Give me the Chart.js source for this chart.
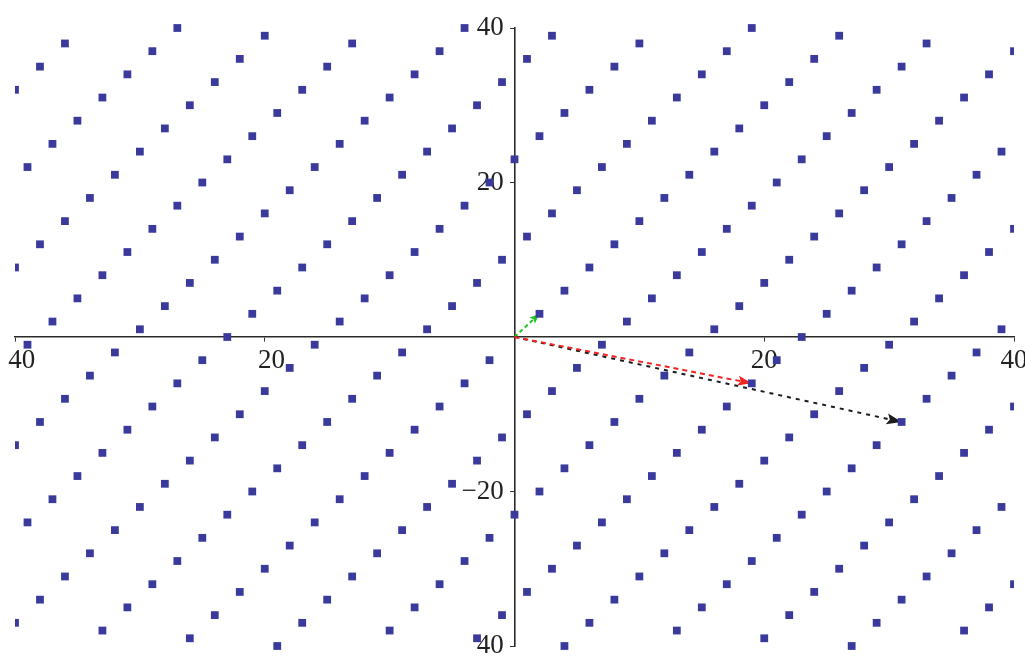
<!DOCTYPE html>
<html>
<head>
<meta charset="utf-8">
<script src="https://cdn.jsdelivr.net/npm/chart.js@4.4.1/dist/chart.umd.min.js"></script>
<style>
  html, body { margin: 0; padding: 0; background: #fff; }
  #latticeChart { display: block; }
</style>
</head>
<body>
<canvas id="latticeChart" width="1025" height="656"></canvas>
<script>
// lattice points, one row per y value (top to bottom), with the x of each point on the row
const rowY = [40, 39, 38, 37, 36, 35, 34, 33, 32, 31, 30, 29, 28, 27, 26, 25, 24, 23, 22, 21,
  20, 19, 18, 17, 16, 15, 14, 13, 12, 11, 10, 9, 8, 7, 6, 5, 4, 3, 2, 1,
  0, -1, -2, -3, -4, -5, -6, -7, -8, -9, -10, -11, -12, -13, -14, -15, -16, -17, -18, -19,
  -20, -21, -22, -23, -24, -25, -26, -27, -28, -29, -30, -31, -32, -33, -34, -35, -36, -37, -38, -39, -40];
const rowX = [
  [-27, -4, 19], [-20, 3, 26], [-36, -13, 10, 33], [-29, -6, 17, 40], [-22, 1, 24],
  [-38, -15, 8, 31], [-31, -8, 15, 38], [-24, -1, 22], [-40, -17, 6, 29], [-33, -10, 13, 36],
  [-26, -3, 20], [-19, 4, 27], [-35, -12, 11, 34], [-28, -5, 18], [-21, 2, 25],
  [-37, -14, 9, 32], [-30, -7, 16, 39], [-23, 0, 23], [-39, -16, 7, 30], [-32, -9, 14, 37],
  [-25, -2, 21], [-18, 5, 28], [-34, -11, 12, 35], [-27, -4, 19], [-20, 3, 26],
  [-36, -13, 10, 33], [-29, -6, 17, 40], [-22, 1, 24], [-38, -15, 8, 31], [-31, -8, 15, 38],
  [-24, -1, 22], [-40, -17, 6, 29], [-33, -10, 13, 36], [-26, -3, 20], [-19, 4, 27],
  [-35, -12, 11, 34], [-28, -5, 18], [-21, 2, 25], [-37, -14, 9, 32], [-30, -7, 16, 39],
  [-23, 23],
  [-39, -16, 7, 30], [-32, -9, 14, 37], [-25, -2, 21], [-18, 5, 28], [-34, -11, 12, 35],
  [-27, -4, 19], [-20, 3, 26], [-36, -13, 10, 33], [-29, -6, 17, 40], [-22, 1, 24],
  [-38, -15, 8, 31], [-31, -8, 15, 38], [-24, -1, 22], [-40, -17, 6, 29], [-33, -10, 13, 36],
  [-26, -3, 20], [-19, 4, 27], [-35, -12, 11, 34], [-28, -5, 18], [-21, 2, 25],
  [-37, -14, 9, 32], [-30, -7, 16, 39], [-23, 0, 23], [-39, -16, 7, 30], [-32, -9, 14, 37],
  [-25, -2, 21], [-18, 5, 28], [-34, -11, 12, 35], [-27, -4, 19], [-20, 3, 26],
  [-36, -13, 10, 33], [-29, -6, 17, 40], [-22, 1, 24], [-38, -15, 8, 31], [-31, -8, 15, 38],
  [-24, -1, 22], [-40, -17, 6, 29], [-33, -10, 13, 36], [-26, -3, 20], [-19, 4, 27]
];

// vectors from the origin, drawn as dashed arrows
const vectorX = [19, 31, 2];
const vectorY = [-6, -11, 3];
const vectorColors = ['#f22424', '#1c1c1c', '#1fc41f'];
const vectorDash = [[5, 4], [4, 5], [4, 3]];
const headLength = [14, 15, 10];
const headHalf = [5, 5.5, 4];

// tick positions and the text printed next to them
const xTickValues = [-40, -20, 20, 40];
const xTickText = ['\u200240', '\u200220', '20', '40'];
const yTickValues = [40, 20, -20, -40];
const yTickText = ['40\u2009\u2009', '20\u2009\u2009', '\u221220\u2009\u2009', '40\u2009\u2009'];

const latticePoints = [];
rowY.forEach((y, i) => rowX[i].forEach(x => latticePoints.push({ x: x, y: y })));

const vectorSets = vectorX.map((vx, i) => ({
  data: [{ x: 0, y: 0 }, { x: vx, y: vectorY[i] }],
  showLine: true,
  borderColor: vectorColors[i],
  borderWidth: 2,
  borderDash: vectorDash[i],
  pointRadius: 0,
  fill: false,
  clip: false,
  order: 1,
  head: { len: headLength[i], half: headHalf[i] }
}));

// filled arrowhead at the far end of each vector line
const arrowHeads = {
  id: 'arrowHeads',
  afterDatasetDraw(chart, args) {
    const ds = chart.data.datasets[args.index];
    if (!ds.head) return;
    const a = args.meta.data[0], b = args.meta.data[1];
    const ang = Math.atan2(b.y - a.y, b.x - a.x);
    const c = chart.ctx;
    c.save();
    c.translate(b.x, b.y);
    c.rotate(ang);
    c.beginPath();
    c.moveTo(0, 0);
    c.lineTo(-ds.head.len, -ds.head.half);
    c.lineTo(-ds.head.len * 0.8, 0);
    c.lineTo(-ds.head.len, ds.head.half);
    c.closePath();
    c.fillStyle = ds.borderColor;
    c.fill();
    c.restore();
  }
};

const tickFont = { family: 'Liberation Serif', size: 27 };

new Chart(document.getElementById('latticeChart'), {
  type: 'scatter',
  data: {
    datasets: [{
      data: latticePoints,
      pointStyle: 'rect',
      pointRadius: 5.5,
      borderWidth: 0,
      backgroundColor: '#3a3a9c',
      clip: { left: 0, right: 0, top: false, bottom: false },
      order: 0
    }].concat(vectorSets)
  },
  options: {
    responsive: false,
    animation: false,
    layout: { padding: { left: 15, right: 11, top: 28, bottom: 10 } },
    plugins: { legend: { display: false }, tooltip: { enabled: false } },
    scales: {
      x: {
        type: 'linear',
        min: -40, max: 40,
        position: { y: 0 },
        afterFit(s) { s.paddingLeft = 0; s.paddingRight = 0; },
        afterBuildTicks(s) { s.ticks = xTickValues.map(v => ({ value: v })); },
        grid: { drawOnChartArea: false, tickLength: 4, color: '#333' },
        border: { display: true, color: '#2a2a2a', width: 1.6 },
        ticks: {
          autoSkip: false, maxRotation: 0, padding: 4, color: '#222', font: tickFont,
          callback: v => xTickText[xTickValues.indexOf(v)]
        }
      },
      y: {
        type: 'linear',
        min: -40, max: 40,
        position: { x: 0 },
        afterFit(s) { s.paddingTop = 0; s.paddingBottom = 0; },
        afterBuildTicks(s) { s.ticks = yTickValues.map(v => ({ value: v })); },
        grid: { drawOnChartArea: false, tickLength: 4, color: '#333' },
        border: { display: true, color: '#2a2a2a', width: 1.6 },
        ticks: {
          autoSkip: false, padding: 7, color: '#222', font: tickFont,
          callback: v => yTickText[yTickValues.indexOf(v)]
        }
      }
    }
  },
  plugins: [arrowHeads]
});
</script>
</body>
</html>
